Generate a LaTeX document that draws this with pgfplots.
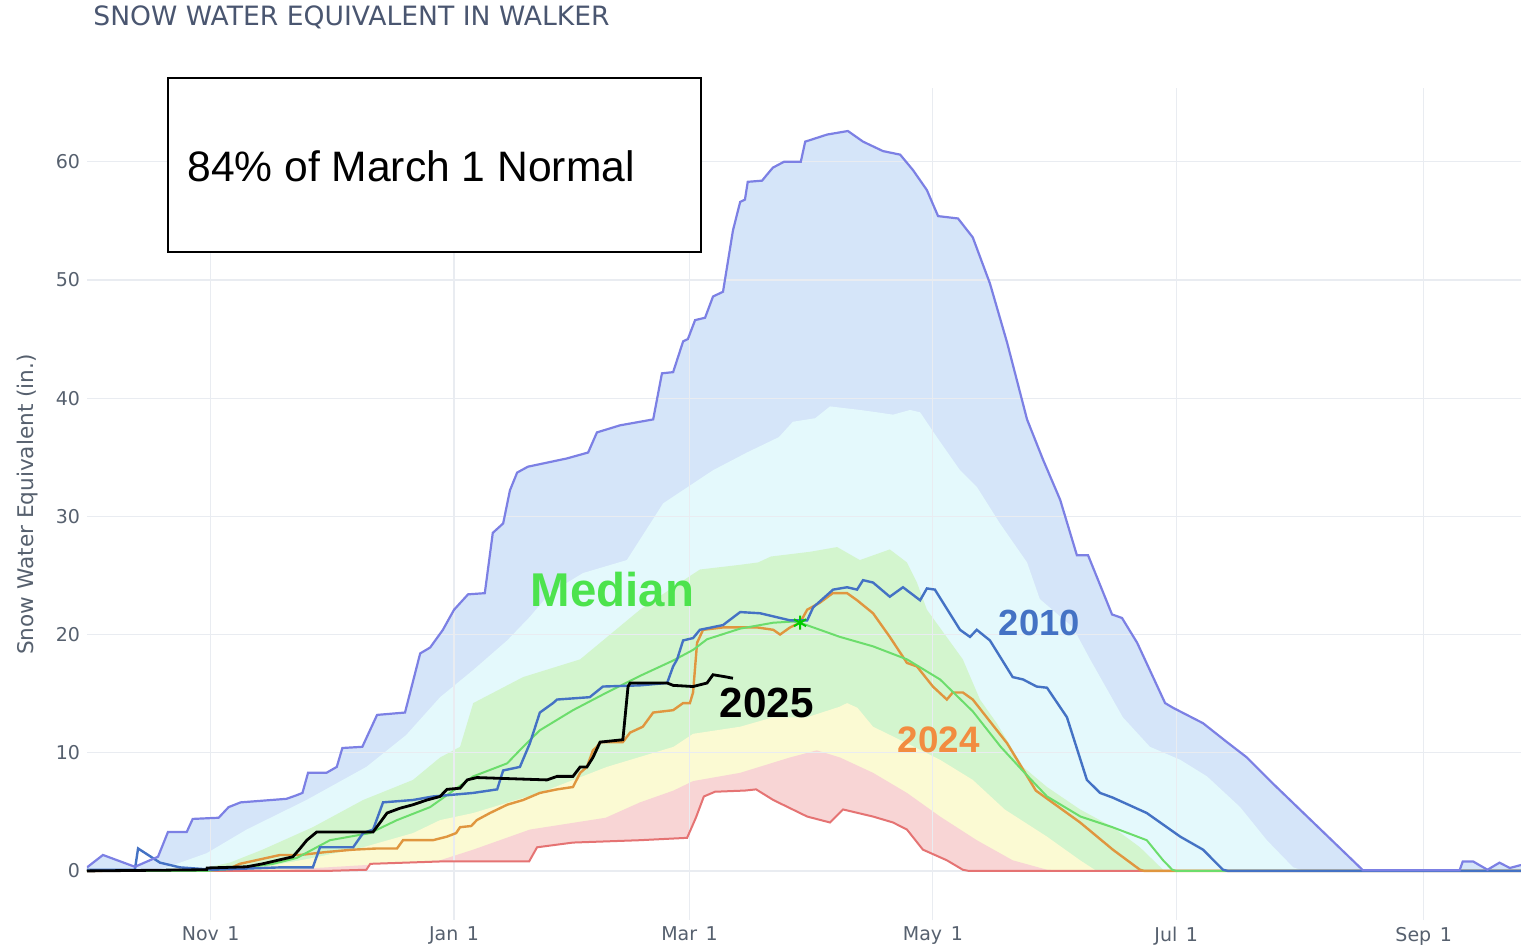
\documentclass[border=0pt]{standalone}
\usepackage{pgfplots}
\pgfplotsset{compat=1.18}
\usepackage{fontspec}
\setmainfont{DejaVu Sans}
\newfontfamily\arialf{Liberation Sans}
\definecolor{maxline}{HTML}{7C80E4}
\definecolor{bandblue}{HTML}{D5E5F9}
\definecolor{bandcyan}{HTML}{E4F9FC}
\definecolor{bandgreen}{HTML}{D3F5CE}
\definecolor{bandyellow}{HTML}{FBFAD3}
\definecolor{bandred}{HTML}{F8D5D5}
\definecolor{minline}{HTML}{E57373}
\definecolor{medline}{HTML}{6CDD6C}
\definecolor{c2010}{HTML}{4472C4}
\definecolor{c2024}{HTML}{E0963F}
\definecolor{gridc}{HTML}{E9ECF1}
\definecolor{tickc}{HTML}{56606E}
\definecolor{titlec}{HTML}{4A5670}
\definecolor{medlabel}{HTML}{4DE34D}
\definecolor{lab2024}{HTML}{F28C40}
\begin{document}
\begin{tikzpicture}
\begin{axis}[
  set layers,
  scale only axis, width=717pt, height=416pt,
  xmin=0, xmax=359.4, ymin=-4.15, ymax=66.24,
  axis line style={draw=none},
  major tick length=0pt,
  xtick={31,92,151,212,273,335},
  xticklabels={Nov\hspace{0.45em}1, Jan\hspace{0.45em}1, Mar\hspace{0.45em}1, May\hspace{0.45em}1, Jul\hspace{0.45em}1, Sep\hspace{0.45em}1},
  ytick={0,10,...,60},
  grid=major, grid style={gridc, line width=0.6pt},
  tick label style={font=\fontsize{9.5}{11}\selectfont, text=tickc},
  /pgf/number format/assume math mode=true,
  clip mode=individual,
]
% bands (stacked, opaque) on background layer
\addplot[on layer=axis background, draw=none, fill=bandblue] coordinates {
(0,0.3) (4,1.35) (12,0.35) (17.8,1.2) (20.3,3.3) (25,3.3) (26.5,4.4) (33,4.5) (35.5,5.4) (38.5,5.8) (50,6.1) (52.5,6.4) (54,6.6) (55.4,8.3) (60,8.3) (62.6,8.8) (64,10.4) (69,10.5) (72.7,13.2) (79.7,13.4) (83.5,18.4) (86,18.9) (89.2,20.4) (91,21.5) (92,22.1) (95.5,23.4) (99.7,23.5) (101.7,28.6) (104.3,29.4) (106,32.2) (107.8,33.7) (110.5,34.2) (120.3,34.9) (125.6,35.4) (127.8,37.1) (133.6,37.7) (141.9,38.2) (144.1,42.1) (146.9,42.2) (149.4,44.8) (150.6,45.0) (152.4,46.6) (154.9,46.8) (156.9,48.6) (159.4,49.0) (161.9,54.2) (163.7,56.6) (164.9,56.8) (165.6,58.3) (169.2,58.4) (170.4,58.9) (171.9,59.5) (174.7,60.0) (178.9,60.0) (180,61.7) (185.5,62.3) (190.7,62.6) (194.5,61.7) (199.5,60.9) (203.8,60.6) (207,59.3) (210.5,57.6) (213.3,55.4) (218.3,55.2) (222,53.6) (226.3,49.7) (230.6,44.7) (235.6,38.2) (239.6,34.8) (243.9,31.4) (248.1,26.7) (250.9,26.7) (256.9,21.7) (259.4,21.4) (263.2,19.3) (270.2,14.2) (272.2,13.8) (279.7,12.5) (285.7,10.9) (290.7,9.6) (297.2,7.4) (319.8,0.05) (344,0.05) (344.8,0.8) (347.4,0.8) (351,0.1) (354,0.7) (356.6,0.25) (359.4,0.5)
} \closedcycle;
\addplot[on layer=axis background, draw=none, fill=bandcyan] coordinates {
(0,0) (15,0) (20,0.3) (30,1.5) (40,3.5) (55,6.0) (70,8.8) (80,11.5) (88.5,14.7) (96.8,17.0) (105.3,19.5) (111,21.5) (116,23.5) (124.3,25.2) (135.3,26.3) (144.4,31.1) (156.9,33.9) (165.4,35.4) (173.4,36.7) (176.9,38.0) (182.5,38.3) (186.2,39.3) (193.7,39.0) (198,38.8) (202,38.6) (206.3,39.0) (208.8,38.8) (213,36.7) (218.8,33.9) (223,32.5) (228.8,29.4) (235.6,26.1) (238.8,23.0) (247.1,20.6) (251.4,17.9) (259.6,13.0) (266.4,10.5) (274,9.4) (280.7,8.0) (289,5.4) (295.7,2.6) (302.3,0.3) (305,0) (359.4,0)
} \closedcycle;
\addplot[on layer=axis background, draw=none, fill=bandgreen] coordinates {
(0,0) (25,0) (27.5,0.1) (35.8,0.7) (44,1.8) (56.6,3.7) (69.2,6.0) (81.7,7.7) (88.5,9.6) (93.5,10.5) (96.8,14.2) (109.3,16.4) (123.6,17.9) (138.6,22.1) (146.9,24.0) (153.6,25.5) (163.7,25.9) (168.2,26.1) (171.4,26.6) (181.2,27.0) (188,27.4) (193.7,26.3) (201.2,27.2) (205.5,26.1) (208,24.4) (210.5,22.1) (219.5,17.9) (223.8,14.5) (228,12.5) (234.6,8.8) (240.6,7.1) (248.9,5.2) (257.1,3.7) (263.9,2.0) (269.7,0.1) (272,0) (359.4,0)
} \closedcycle;
\addplot[on layer=axis background, draw=none, fill=bandyellow] coordinates {
(0,0) (40,0) (44,0.3) (56.6,1.1) (69.2,2.0) (81.7,3.2) (88.5,4.3) (96.8,4.9) (113.5,6.6) (130.3,8.8) (147,10.5) (151.9,11.6) (163.7,12.2) (172,13.0) (180.5,13.0) (188.7,13.9) (190.5,14.2) (193.1,13.8) (197,12.2) (205.5,10.8) (213.8,9.4) (222,7.7) (230,5.2) (240.6,2.9) (248.9,0.9) (253,0) (359.4,0)
} \closedcycle;
\addplot[on layer=axis background, draw=none, fill=bandred] coordinates {
(0,0) (30,0) (50,0.1) (70,0.5) (88.5,0.9) (96.8,1.8) (111,3.5) (130,4.5) (138.6,5.8) (147,6.8) (151.9,7.6) (163.7,8.3) (176.2,9.6) (182.9,10.2) (188.7,9.6) (197,8.3) (205.5,6.6) (213.8,4.6) (223,2.6) (232,0.9) (240.6,0.1) (245,0) (359.4,0)
} \closedcycle;
\addplot[on layer=axis background, draw=none, fill=white] coordinates {
(0,0) (60,0) (70,0.1) (71,0.6) (88.5,0.8) (110.8,0.8) (112.8,2.0) (121.8,2.4) (138.6,2.6) (150.4,2.8) (152.6,4.5) (154.6,6.3) (157.4,6.7) (164.9,6.8) (167.7,6.9) (172,6.0) (180.5,4.6) (186.2,4.1) (189.5,5.2) (197,4.6) (202,4.1) (205.5,3.5) (209.5,1.8) (215.5,0.9) (219.5,0.1) (221,0) (359.4,0)
} \closedcycle;
% min line
\addplot[minline, line width=1pt] coordinates {
(0,0) (60,0) (70,0.1) (71,0.6) (88.5,0.8) (110.8,0.8) (112.8,2.0) (121.8,2.4) (138.6,2.6) (150.4,2.8) (152.6,4.5) (154.6,6.3) (157.4,6.7) (164.9,6.8) (167.7,6.9) (172,6.0) (180.5,4.6) (186.2,4.1) (189.5,5.2) (197,4.6) (202,4.1) (205.5,3.5) (209.5,1.8) (215.5,0.9) (219.5,0.1) (221,0) (359.4,0)
};
% 2024
\addplot[c2024, line width=1.2pt] coordinates {
(0,0) (35,0.1) (38.3,0.6) (48.4,1.35) (53.4,1.35) (60,1.6) (66.7,1.8) (72.7,1.9) (77.7,1.9) (79.2,2.6) (86.7,2.6) (90.2,2.9) (92.5,3.2) (93.5,3.7) (96.3,3.8) (97.7,4.3) (101,4.9) (105.3,5.6) (109.3,6.0) (113.5,6.6) (117.8,6.9) (121.8,7.1) (123.6,8.3) (125.3,8.8) (126.8,10.2) (127.8,10.5) (128.6,10.9) (134.3,10.9) (136.1,11.7) (139.3,12.2) (141.9,13.4) (146.9,13.6) (149.4,14.2) (151.1,14.2) (151.9,15.1) (152.9,19.3) (154.4,20.4) (159.4,20.6) (168,20.6) (172,20.4) (173.7,20.0) (176.2,20.6) (178.7,21.0) (180.5,22.1) (183.7,22.7) (186.9,23.5) (190.5,23.5) (193,22.9) (197,21.8) (201.2,19.8) (205.5,17.6) (208,17.3) (212,15.6) (215.5,14.5) (217,15.1) (219.5,15.1) (222,14.5) (230.6,10.8) (237.8,6.8) (248.9,4.1) (257.1,1.8) (263.9,0.1) (265,0) (359.4,0)
};
% median line
\addplot[medline, line width=1pt] coordinates {
(0,0) (30,0) (40,0.3) (46.6,0.6) (52.6,1.1) (60.9,2.6) (70.9,3.2) (77.7,4.3) (86,5.4) (88.5,6.0) (96.8,8.0) (105.3,9.1) (109.3,10.5) (113.5,11.9) (121.8,13.6) (130.3,15.1) (138.6,16.5) (146.9,17.8) (151.9,18.7) (155.4,19.6) (163.7,20.5) (172,21.0) (177,21.1) (178.7,21.0) (188.7,19.8) (197,19.0) (205.5,17.9) (213.8,16.2) (222,13.5) (229,10.5) (235,8.3) (240.6,6.3) (249,4.6) (257,3.7) (265.6,2.6) (269.7,0.9) (272,0.1) (273,0) (359.4,0)
};
% 2010
\addplot[c2010, line width=1.2pt] coordinates {
(0,0.1) (12,0.1) (12.8,1.9) (18.3,0.7) (23.3,0.3) (31.6,0.1) (48.4,0.3) (56.6,0.3) (58.4,2.0) (66.7,2.0) (69.2,3.2) (71.7,3.5) (74.2,5.8) (81.7,6.0) (86.7,6.3) (93.5,6.5) (96.8,6.6) (102.8,6.9) (104.3,8.5) (108.5,8.8) (111,10.8) (113.5,13.4) (116.8,14.2) (117.8,14.5) (126,14.7) (129.3,15.6) (138.6,15.7) (145.4,15.9) (146.9,17.3) (147.9,17.9) (149.4,19.5) (151.9,19.7) (153.6,20.4) (159.4,20.8) (163.7,21.9) (168.7,21.8) (176.2,21.2) (180.5,21.2) (182,22.3) (187,23.8) (190.5,24.0) (193,23.8) (194.5,24.6) (197,24.4) (201.2,23.2) (204.5,24.0) (208.8,22.9) (210.5,23.9) (212.5,23.8) (218.8,20.4) (221.3,19.8) (223,20.4) (226.3,19.5) (232,16.4) (234.6,16.2) (238,15.6) (240.6,15.5) (245.6,13.0) (250.6,7.7) (253.9,6.6) (257.1,6.2) (265.6,4.9) (274,2.9) (279.7,1.8) (284.7,0.1) (286,0) (359.4,0)
};
% 2025
\addplot[black, line width=1.4pt] coordinates {
(0,0) (30,0.1) (30.1,0.25) (40,0.35) (44,0.6) (51.6,1.2) (53.4,1.9) (55.1,2.6) (57.6,3.3) (71.7,3.3) (73.9,4.3) (75.2,4.9) (78.4,5.3) (81.7,5.6) (85.2,6.0) (88.5,6.3) (90.2,6.9) (93.5,7.0) (95.3,7.7) (97.7,7.9) (115.3,7.7) (117.8,8.0) (121.8,8.0) (123.6,8.8) (125.3,8.8) (126.8,9.6) (128.6,10.9) (134.3,11.1) (135.6,15.6) (136.1,15.9) (145.4,15.9) (146.9,15.7) (151.9,15.6) (155.4,15.9) (156.9,16.6) (160.4,16.4) (161.9,16.3)
};
% max line
\addplot[maxline, line width=1.1pt] coordinates {
(0,0.3) (4,1.35) (12,0.35) (17.8,1.2) (20.3,3.3) (25,3.3) (26.5,4.4) (33,4.5) (35.5,5.4) (38.5,5.8) (50,6.1) (52.5,6.4) (54,6.6) (55.4,8.3) (60,8.3) (62.6,8.8) (64,10.4) (69,10.5) (72.7,13.2) (79.7,13.4) (83.5,18.4) (86,18.9) (89.2,20.4) (91,21.5) (92,22.1) (95.5,23.4) (99.7,23.5) (101.7,28.6) (104.3,29.4) (106,32.2) (107.8,33.7) (110.5,34.2) (120.3,34.9) (125.6,35.4) (127.8,37.1) (133.6,37.7) (141.9,38.2) (144.1,42.1) (146.9,42.2) (149.4,44.8) (150.6,45.0) (152.4,46.6) (154.9,46.8) (156.9,48.6) (159.4,49.0) (161.9,54.2) (163.7,56.6) (164.9,56.8) (165.6,58.3) (169.2,58.4) (170.4,58.9) (171.9,59.5) (174.7,60.0) (178.9,60.0) (180,61.7) (185.5,62.3) (190.7,62.6) (194.5,61.7) (199.5,60.9) (203.8,60.6) (207,59.3) (210.5,57.6) (213.3,55.4) (218.3,55.2) (222,53.6) (226.3,49.7) (230.6,44.7) (235.6,38.2) (239.6,34.8) (243.9,31.4) (248.1,26.7) (250.9,26.7) (256.9,21.7) (259.4,21.4) (263.2,19.3) (270.2,14.2) (272.2,13.8) (279.7,12.5) (285.7,10.9) (290.7,9.6) (297.2,7.4) (319.8,0.05) (344,0.05) (344.8,0.8) (347.4,0.8) (351,0.1) (354,0.7) (356.6,0.25) (359.4,0.5)
};
% median peak marker
\addplot[only marks, mark=asterisk, mark size=3.5pt, color=green!80!black, line width=1pt] coordinates {(178.7,21.0)};
% annotations
\node[anchor=west, font=\fontsize{13.3}{15}\selectfont, text=titlec, inner sep=0pt] at (axis cs:1.5,72.25) {SNOW WATER EQUIVALENT IN WALKER};
\node[rotate=90, font=\fontsize{10.8}{12}\selectfont, text=tickc, inner sep=0pt] at (axis cs:-15,31) {Snow Water Equivalent (in.)};
\node[draw=black, line width=1.1pt, fill=white, minimum width=266.5pt, minimum height=87pt, inner sep=0pt] at (axis cs:87.1,59.7) {};
\node[anchor=west, font=\arialf\fontsize{21.3}{24}\selectfont, inner sep=0pt] at (axis cs:25.06,59.6) {84\% of March 1 Normal};
\node[font=\arialf\bfseries\fontsize{23.7}{26}\selectfont, text=medlabel, inner sep=0pt] at (axis cs:131.7,23.8) {Median};
\node[font=\arialf\bfseries\fontsize{21.1}{24}\selectfont, text=black, inner sep=0pt] at (axis cs:170.4,14.2) {2025};
\node[font=\arialf\bfseries\fontsize{18.2}{21}\selectfont, text=c2010, inner sep=0pt] at (axis cs:238.7,21.0) {2010};
\node[font=\arialf\bfseries\fontsize{18.4}{21}\selectfont, text=lab2024, inner sep=0pt] at (axis cs:213.5,11.1) {2024};
\end{axis}
\pgfresetboundingbox
\path ([xshift=-43.5pt,yshift=-14.5pt]current axis.south west) rectangle ([yshift=44pt]current axis.north east);
\end{tikzpicture}
\end{document}
